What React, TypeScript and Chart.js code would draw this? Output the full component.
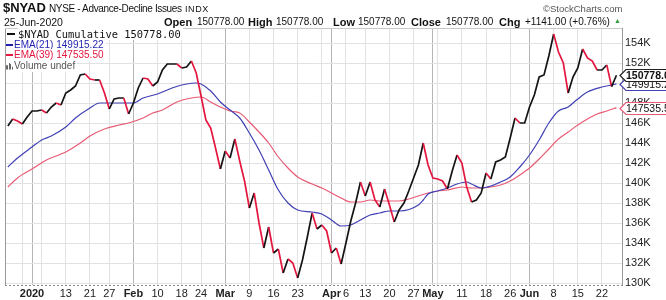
import React, { useEffect, useRef } from "react";
import { Chart, registerables } from "chart.js";

Chart.register(...registerables);

// Trading days from 24-Dec-2019 (index 0) to 25-Jun-2020 (index 126), values in thousands
const priceValues = [
  145.7, 146.4, 146.2, 145.9, 146.6, 147.2, 147.2, 147.3, 147.0, 147.6,
  148.0, 147.8, 149.0, 149.3, 149.7, 150.8, 150.9, 150.4, 150.3, 150.3,
  149.0, 147.4, 148.4, 148.5, 148.5, 146.9, 148.0, 149.5, 150.5, 150.4,
  149.7, 150.1, 151.3, 151.9, 151.9, 151.9, 151.5, 151.6, 152.2, 151.0,
  148.7, 146.3, 145.5, 143.5, 141.4, 143.2, 142.5, 144.4, 142.2, 140.2,
  137.5, 139.0, 136.0, 133.5, 135.6, 133.0, 133.4, 131.0, 132.4, 132.0,
  130.5, 132.3, 134.6, 137.0, 135.4, 135.8, 135.2, 133.0, 133.5, 131.9,
  134.0, 136.2, 138.0, 140.1, 138.7, 140.1, 138.3, 137.6, 139.4, 137.8,
  136.1, 137.3, 138.0, 139.2, 140.5, 141.8, 144.0, 141.8, 140.5, 140.4,
  140.2, 139.4, 141.2, 142.8, 142.0, 139.6, 138.1, 138.3, 139.0, 141.0,
  140.4, 142.1, 142.3, 142.6, 144.5, 146.5, 146.0, 146.0, 147.6, 148.8,
  150.6, 150.8, 152.7, 154.9, 153.1, 152.0, 149.0, 150.6, 151.5, 153.4,
  152.5, 152.2, 151.3, 151.3, 151.8, 149.637, 150.778,
];

const ema21Days = [0, 2, 5, 7, 9, 12, 14, 17, 19, 21, 24, 26, 28, 31, 34, 37, 39, 40, 42, 44, 46, 48, 50, 52, 54, 56, 58, 60, 63, 65, 67, 69, 71, 73, 75, 77, 79, 81, 85, 86, 87, 89, 91, 93, 95, 96, 98, 100, 102, 104, 106, 108, 110, 112, 114, 116, 118, 120, 123, 125, 126];
const ema21Values = [141.6, 142.5, 143.6, 144.3, 144.7, 145.6, 146.5, 147.5, 148.0, 148.0, 148.0, 148.0, 148.5, 148.9, 149.5, 149.9, 150.0, 149.9, 149.2, 148.1, 147.3, 146.5, 145.0, 143.3, 141.3, 139.3, 138.0, 137.3, 137.1, 136.9, 136.3, 135.7, 135.8, 136.3, 136.8, 137.0, 137.2, 137.2, 137.8, 138.3, 138.9, 139.2, 139.5, 139.9, 140.1, 139.9, 139.5, 139.7, 140.1, 140.6, 141.6, 142.8, 144.3, 146.0, 147.2, 147.6, 148.4, 149.1, 149.6, 149.8, 149.915];

const ema39Days = [0, 2, 5, 8, 12, 15, 17, 20, 23, 25, 28, 30, 32, 35, 38, 40, 42, 44, 46, 48, 50, 52, 54, 56, 58, 60, 63, 65, 67, 69, 71, 73, 75, 77, 79, 81, 83, 85, 87, 89, 91, 94, 96, 98, 100, 102, 104, 106, 108, 110, 112, 114, 116, 118, 120, 122, 124, 126];
const ema39Values = [139.6, 140.5, 141.4, 142.3, 143.1, 144.0, 144.7, 145.4, 145.8, 146.0, 146.5, 147.0, 147.3, 148.1, 148.5, 148.6, 148.1, 147.6, 147.2, 147.0, 146.1, 145.1, 144.0, 142.6, 141.5, 140.6, 139.9, 139.5, 139.0, 138.5, 138.1, 138.1, 138.3, 138.2, 138.2, 138.2, 138.4, 138.7, 139.0, 139.2, 139.3, 139.6, 139.5, 139.5, 139.6, 139.8, 140.2, 140.8, 141.5, 142.4, 143.4, 144.4, 145.1, 145.8, 146.4, 146.9, 147.2, 147.535];

const tickDays = [3, 5, 7, 12, 17, 21, 26, 31, 36, 40, 45, 50, 55, 60, 65, 67, 70, 74, 79, 84, 88, 89, 94, 99, 104, 108, 113, 118, 123];
const tickLabels = ["", "2020", "", "13", "21", "27", "Feb", "10", "18", "24", "Mar", "9", "16", "23", "", "Apr", "6", "13", "20", "27", "May", "", "11", "18", "26", "Jun", "8", "15", "22"];
const monthDays = [5, 26, 45, 67, 88, 108];
const yTicks = [130, 132, 134, 136, 138, 140, 142, 144, 146, 148, 150, 152, 154];

const SANS = '"Liberation Sans", Arial, sans-serif';
const PRICE_UP = "#141414";
const PRICE_DOWN = "#e3173f";
const EMA21_COLOR = "#4040b4";
const EMA39_COLOR = "#e85a74";

const tagPlugin = {
  id: "frameAndTags",
  beforeDatasetsDraw(chart: any) {
    const { ctx, chartArea } = chart;
    ctx.save();
    ctx.lineWidth = 1;
    ctx.strokeStyle = "#9a9a9a";
    ctx.beginPath();
    ctx.moveTo(chartArea.left + 0.5, chartArea.top);
    ctx.lineTo(chartArea.left + 0.5, chartArea.bottom);
    ctx.stroke();
    ctx.strokeStyle = "#c8c8c8";
    ctx.beginPath();
    ctx.moveTo(chartArea.left, chartArea.top + 0.5);
    ctx.lineTo(chartArea.right, chartArea.top + 0.5);
    ctx.stroke();
    ctx.strokeStyle = "#8a8a8a";
    ctx.setLineDash([2, 2]);
    ctx.beginPath();
    ctx.moveTo(chartArea.left, Math.round(chartArea.bottom) + 0.5);
    ctx.lineTo(chartArea.right + 3, Math.round(chartArea.bottom) + 0.5);
    ctx.stroke();
    ctx.restore();
  },
  afterDraw(chart: any) {
    const { ctx, chartArea } = chart;
    const y = chart.scales.y;
    const tags = [
      { v: ema39Values[ema39Values.length - 1], color: EMA39_COLOR, text: "147535.50", bold: false },
      { v: ema21Values[ema21Values.length - 1], color: EMA21_COLOR, text: "149915.22", bold: false },
      { v: priceValues[priceValues.length - 1], color: "#222", text: "150778.00", bold: true },
    ];
    ctx.save();
    for (const t of tags) {
      const py = Math.round(y.getPixelForValue(t.v)) + 0.5;
      const x0 = chartArea.right - 2;
      ctx.beginPath();
      ctx.moveTo(x0, py);
      ctx.lineTo(x0 + 6, py - 6);
      ctx.lineTo(700, py - 6);
      ctx.lineTo(700, py + 6);
      ctx.lineTo(x0 + 6, py + 6);
      ctx.closePath();
      ctx.fillStyle = "#fff";
      ctx.fill();
      ctx.strokeStyle = t.color;
      ctx.lineWidth = 1.2;
      ctx.stroke();
      ctx.fillStyle = "#111";
      ctx.font = `${t.bold ? "bold " : ""}10.5px ${SANS}`;
      ctx.textBaseline = "middle";
      ctx.textAlign = "left";
      ctx.fillText(t.text, x0 + 6, py + 0.5);
    }
    ctx.restore();
  },
};

const abs = (left: number, top: number, extra: any = {}) => ({
  position: "absolute" as const,
  left,
  top,
  whiteSpace: "nowrap" as const,
  fontFamily: SANS,
  color: "#111",
  ...extra,
});

export default function App() {
  const ref = useRef<HTMLCanvasElement>(null);

  useEffect(() => {
    const chart = new Chart(ref.current as HTMLCanvasElement, {
      type: "line",
      data: {
        datasets: [
          {
            label: "$NYAD",
            data: priceValues.map((v, i) => ({ x: i, y: v })),
            borderColor: PRICE_UP,
            borderWidth: 1.7,
            pointRadius: 0,
            tension: 0,
            segment: {
              borderColor: (c: any) => (c.p1.parsed.y < c.p0.parsed.y ? PRICE_DOWN : PRICE_UP),
            },
          },
          {
            label: "EMA(21)",
            data: ema21Days.map((d, i) => ({ x: d, y: ema21Values[i] })),
            borderColor: EMA21_COLOR,
            borderWidth: 1.2,
            pointRadius: 0,
            cubicInterpolationMode: "monotone",
          },
          {
            label: "EMA(39)",
            data: ema39Days.map((d, i) => ({ x: d, y: ema39Values[i] })),
            borderColor: EMA39_COLOR,
            borderWidth: 1.2,
            pointRadius: 0,
            cubicInterpolationMode: "monotone",
          },
        ],
      },
      options: {
        responsive: false,
        animation: false,
        layout: { padding: { top: 28, left: 5, right: 0, bottom: 0 } },
        plugins: { legend: { display: false }, tooltip: { enabled: false } },
        scales: {
          x: {
            type: "linear",
            min: -0.59,
            max: 127.15,
            afterBuildTicks: (s: any) => {
              s.ticks = tickDays.map((v) => ({ value: v }));
            },
            afterFit: (s: any) => {
              s.height = 15;
            },
            grid: {
              color: (c: any) => (c.tick && monthDays.includes(c.tick.value) ? "#b5b5b5" : "#e2e2e2"),
              drawTicks: false,
            },
            border: { display: false },
            ticks: {
              autoSkip: false,
              maxRotation: 0,
              padding: 2,
              color: "#222",
              font: (c: any) => ({
                family: SANS,
                size: 11,
                weight: c.tick && monthDays.includes(c.tick.value) ? "bold" : "normal",
              }),
              callback: (_v: any, i: number) => tickLabels[i],
            },
          },
          y: {
            position: "right",
            min: 129.8,
            max: 155.5,
            afterBuildTicks: (s: any) => {
              s.ticks = yTicks.map((v) => ({ value: v }));
            },
            afterFit: (s: any) => {
              s.width = 44;
            },
            grid: { color: "#e2e2e2", drawTicks: false },
            border: { display: true, color: "#9a9a9a" },
            ticks: {
              padding: 3,
              color: "#222",
              font: { family: SANS, size: 11 },
              callback: (v: any) => `${v}K`,
            },
          },
        },
      },
      plugins: [tagPlugin],
    } as any);
    return () => chart.destroy();
  }, []);

  const legendBg = { background: "#fff", paddingRight: 2 };

  return (
    <div style={{ position: "fixed", left: 0, top: 0, width: 666, height: 300, background: "#fff", overflow: "hidden" }}>
      <canvas ref={ref} width={666} height={300} style={{ position: "absolute", left: 0, top: 0, width: 666, height: 300 }} />

      {/* Header */}
      <div style={abs(3, 1, { fontSize: 13, fontWeight: "bold", lineHeight: "14px" })}>$NYAD</div>
      <div style={abs(49, 2.5, { fontSize: 10, lineHeight: "12px", letterSpacing: -0.35 })}>NYSE - Advance-Decline Issues</div>
      <div style={abs(185, 3, { fontSize: 9, lineHeight: "12px", letterSpacing: 0.6 })}>INDX</div>
      <div style={abs(543, 2.5, { fontSize: 9.5, lineHeight: "12px", color: "#555" })}>©StockCharts.com</div>
      <div style={abs(4, 15.5, { fontSize: 10.5, lineHeight: "12px" })}>25-Jun-2020</div>
      <div style={abs(164, 15.5, { fontSize: 11, fontWeight: "bold", lineHeight: "12px" })}>Open</div>
      <div style={abs(197, 15.5, { fontSize: 10, lineHeight: "12px" })}>150778.00</div>
      <div style={abs(248, 15.5, { fontSize: 11, fontWeight: "bold", lineHeight: "12px" })}>High</div>
      <div style={abs(276, 15.5, { fontSize: 10, lineHeight: "12px" })}>150778.00</div>
      <div style={abs(333, 15.5, { fontSize: 11, fontWeight: "bold", lineHeight: "12px" })}>Low</div>
      <div style={abs(358, 15.5, { fontSize: 10, lineHeight: "12px" })}>150778.00</div>
      <div style={abs(411, 15.5, { fontSize: 11, fontWeight: "bold", lineHeight: "12px" })}>Close</div>
      <div style={abs(446, 15.5, { fontSize: 10, lineHeight: "12px" })}>150778.00</div>
      <div style={abs(499, 15.5, { fontSize: 11, fontWeight: "bold", lineHeight: "12px" })}>Chg</div>
      <div style={abs(525, 15.5, { fontSize: 10, lineHeight: "12px" })}>+1141.00 (+0.76%)</div>
      <div style={abs(614, 16, { fontSize: 7, lineHeight: "10px", color: "#2e9e3e" })}>▲</div>

      {/* Legend */}
      <div style={abs(7, 33, { width: 8, height: 2, background: "#111" })} />
      <div style={abs(18, 28, { fontSize: 10.4, lineHeight: "12px", fontFamily: '"DejaVu Sans Mono", monospace', ...legendBg })}>$NYAD Cumulative 150778.00</div>
      <div style={abs(6, 38.5, { fontSize: 10, lineHeight: "12px", color: "#1f1fae", ...legendBg })}>
        <span style={{ display: "inline-block", width: 7, height: 2, background: "#1f1fae", verticalAlign: "middle", marginRight: 1 }} />
        EMA(21) 149915.22
      </div>
      <div style={abs(6, 49, { fontSize: 10, lineHeight: "12px", color: "#e3173f", ...legendBg })}>
        <span style={{ display: "inline-block", width: 7, height: 2, background: "#e3173f", verticalAlign: "middle", marginRight: 1 }} />
        EMA(39) 147535.50
      </div>
      <div style={abs(6, 59.5, { fontSize: 10, lineHeight: "12px", color: "#555", ...legendBg })}>
        <span style={{ display: "inline-block", width: 7, height: 7, marginRight: 1, verticalAlign: "-1px", background: "linear-gradient(90deg, #666 0 2px, #fff 2px 3px, #666 3px 5px, #fff 5px 6px, #666 6px 7px)", clipPath: "polygon(0 40%, 28% 40%, 28% 0, 57% 0, 57% 20%, 85% 20%, 85% 60%, 100% 60%, 100% 100%, 0 100%)" }} />
        Volume undef
      </div>
    </div>
  );
}
